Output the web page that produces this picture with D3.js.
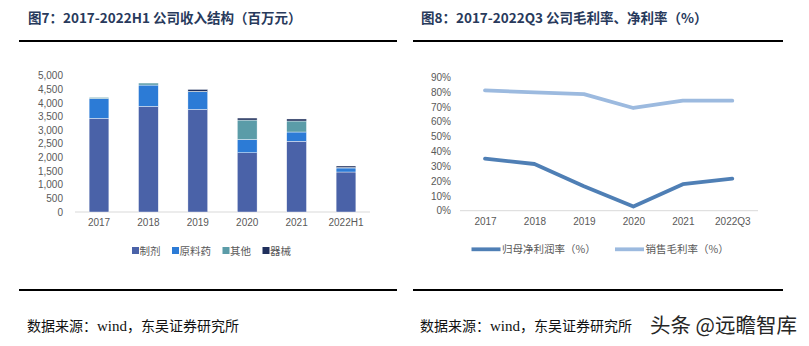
<!DOCTYPE html>
<html>
<head>
<meta charset="utf-8">
<script src="https://cdn.jsdelivr.net/npm/d3@7"></script>
<style>
  body { margin: 0; background: #fff; }
  svg { display: block; }
</style>
</head>
<body>
<svg id="chart"></svg>
<script>
// revenue structure (million yuan)
var years = ["2017", "2018", "2019", "2020", "2021", "2022H1"];
var revNames = ["制剂", "原料药", "其他", "器械"];
var zhiji = [3430, 3870, 3760, 2170, 2590, 1465];
var yuanliao = [727, 780, 647, 491, 340, 147];
var qita = [40, 73, 12, 707, 403, 15];
var qixie = [0, 0, 70, 73, 74, 58];
var revTicks = [0, 500, 1000, 1500, 2000, 2500, 3000, 3500, 4000, 4500, 5000];

// margins (%)
var periods = ["2017", "2018", "2019", "2020", "2021", "2022Q3"];
var netMargin = [35.1, 31.5, 16.5, 2.8, 17.9, 21.6];
var grossMargin = [81.2, 79.8, 78.7, 69.3, 74.2, 74.2];
var marginNames = ["归母净利润率（%）", "销售毛利率（%）"];
var marginTicks = [0, 10, 20, 30, 40, 50, 60, 70, 80, 90];

var width = 809;
var height = 346;

var svg = d3.select("#chart");
svg.attr("width", width);
svg.attr("height", height);

var cjk = "'Noto Sans CJK SC', 'Noto Sans', sans-serif";
var num = "'Liberation Sans', Arial, " + cjk;
var gray = "#595959";

// titles, rules and source line
function frame(x0, x1, tx, title) {
  svg.append("text")
    .attr("x", tx)
    .attr("y", 23)
    .attr("font-family", cjk)
    .attr("font-weight", "bold")
    .attr("font-size", "13.5px")
    .attr("fill", "#283a5c")
    .text(title);

  svg.append("rect")
    .attr("x", x0).attr("y", 40)
    .attr("width", x1 - x0).attr("height", 2)
    .attr("fill", "#000");

  svg.append("rect")
    .attr("x", x0).attr("y", 289)
    .attr("width", x1 - x0).attr("height", 2)
    .attr("fill", "#000");

  var src = svg.append("text")
    .attr("x", tx - 1)
    .attr("y", 331)
    .attr("font-family", cjk)
    .attr("font-size", "14px")
    .attr("fill", "#111");
  src.append("tspan").text("数据来源：");
  src.append("tspan")
    .attr("font-family", "'Liberation Serif', 'Times New Roman', serif")
    .attr("font-size", "15px")
    .text("wind");
  src.append("tspan").text("，东吴证券研究所");
}

frame(19, 397, 28, "图7：2017-2022H1 公司收入结构（百万元）");
frame(413, 783, 421, "图8：2017-2022Q3 公司毛利率、净利率（%）");

// watermark
svg.append("text")
  .attr("x", 650)
  .attr("y", 333)
  .attr("font-family", cjk)
  .attr("font-size", "20.5px")
  .attr("fill", "#262626")
  .text("头条 @远瞻智库");


/////////////////////////////////////////////////
// stacked bar chart

var x1 = d3.scaleBand()
  .domain(years)
  .range([74.3, 370.7])
  .paddingInner(0.6)
  .paddingOuter(0.3);

var y1 = d3.scaleLinear()
  .domain([0, 5000])
  .range([212, 75.5]);

var colors1 = ["#4a62a8", "#2c7bd6", "#5b9ca8", "#1f2f5c"];

var rows = years.map(function (d, i) {
  return { year: d, "制剂": zhiji[i], "原料药": yuanliao[i], "其他": qita[i], "器械": qixie[i] };
});
var stacked = d3.stack().keys(revNames)(rows);

var g1 = svg.append("g");

g1.append("line")
  .attr("x1", 75).attr("x2", 370)
  .attr("y1", y1(0)).attr("y2", y1(0))
  .attr("stroke", "#d9d9d9")
  .attr("stroke-width", 1);

stacked.forEach(function (layer, k) {
  g1.selectAll(null)
    .data(layer)
    .enter()
    .append("rect")
    .attr("x", function (d) { return x1(d.data.year); })
    .attr("y", function (d) { return y1(d[1]); })
    .attr("width", x1.bandwidth())
    .attr("height", function (d) { return Math.max(0, y1(d[0]) - y1(d[1])); })
    .attr("fill", colors1[k])
    .attr("stroke", "#fff")
    .attr("stroke-width", 0.4);
});

var yAxis1 = d3.axisLeft(y1)
  .tickValues(revTicks)
  .tickFormat(d3.format(","))
  .tickSize(0)
  .tickPadding(0);

var ya1 = g1.append("g").attr("transform", "translate(63,0)").call(yAxis1);
ya1.select(".domain").remove();
ya1.selectAll("text")
  .attr("font-family", num)
  .attr("font-size", "10px")
  .attr("fill", gray);

var xAxis1 = d3.axisBottom(x1).tickSize(0).tickPadding(0);
var xa1 = g1.append("g").attr("transform", "translate(0,219)").call(xAxis1);
xa1.select(".domain").remove();
xa1.selectAll("text")
  .attr("font-family", num)
  .attr("font-size", "10px")
  .attr("fill", gray);

// legend
var lx = 132;
revNames.forEach(function (name, k) {
  g1.append("rect")
    .attr("x", lx).attr("y", 247)
    .attr("width", 7).attr("height", 7)
    .attr("fill", colors1[k]);
  var t = g1.append("text")
    .attr("x", lx + 7.5)
    .attr("y", 254.5)
    .attr("font-family", cjk)
    .attr("font-size", "10.5px")
    .attr("fill", gray)
    .text(name);
  lx += 7.5 + t.node().getComputedTextLength() + 11.5;
});


/////////////////////////////////////////////////
// line chart

var x2 = d3.scalePoint()
  .domain(periods)
  .range([485, 732.3]);

var y2 = d3.scaleLinear()
  .domain([0, 90])
  .range([210.7, 77.3]);

var g2 = svg.append("g");

g2.append("line")
  .attr("x1", 460).attr("x2", 758)
  .attr("y1", y2(0)).attr("y2", y2(0))
  .attr("stroke", "#d9d9d9")
  .attr("stroke-width", 1);

var series = [netMargin, grossMargin];
var colors2 = ["#4f7fb5", "#9cbadf"];

var line = d3.line()
  .x(function (d, i) { return x2(periods[i]); })
  .y(function (d) { return y2(d); });

series.forEach(function (s, k) {
  g2.append("path")
    .attr("d", line(s))
    .attr("stroke", colors2[k])
    .attr("stroke-width", 3.8)
    .attr("stroke-linejoin", "round")
    .attr("stroke-linecap", "round")
    .attr("fill", "none");
});

var yAxis2 = d3.axisLeft(y2)
  .tickValues(marginTicks)
  .tickFormat(function (d) { return d + "%"; })
  .tickSize(0)
  .tickPadding(0);

var ya2 = g2.append("g").attr("transform", "translate(451,0)").call(yAxis2);
ya2.select(".domain").remove();
ya2.selectAll("text")
  .attr("font-family", num)
  .attr("font-size", "10px")
  .attr("fill", gray);

var xAxis2 = d3.axisBottom(x2).tickSize(0).tickPadding(0);
var xa2 = g2.append("g").attr("transform", "translate(0,217.5)").call(xAxis2);
xa2.select(".domain").remove();
xa2.selectAll("text")
  .attr("font-family", num)
  .attr("font-size", "10px")
  .attr("fill", gray);

// legend
var legX = [471.5, 615];
marginNames.forEach(function (name, k) {
  g2.append("line")
    .attr("x1", legX[k]).attr("x2", legX[k] + 29)
    .attr("y1", 249.3).attr("y2", 249.3)
    .attr("stroke", colors2[k])
    .attr("stroke-width", 3.8);
  g2.append("text")
    .attr("x", legX[k] + 30.5)
    .attr("y", 253.3)
    .attr("font-family", cjk)
    .attr("font-size", "10.5px")
    .attr("fill", gray)
    .text(name);
});
</script>
</body>
</html>
